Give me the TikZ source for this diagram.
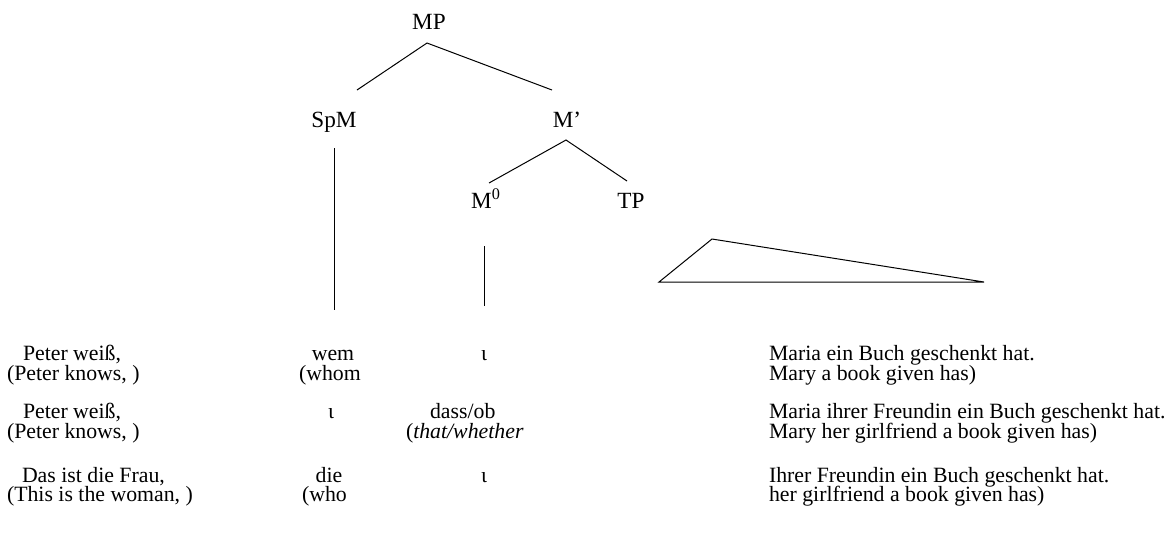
\documentclass[tikz,border=0pt]{standalone}
\usepackage{fontspec}
\setmainfont{Liberation Serif}
\begin{document}
\begin{tikzpicture}[x=0.5pt,y=-0.5pt,
  every node/.style={inner sep=0pt, outer sep=0pt, font=\fontsize{10.9}{10.3}\selectfont},
  cat/.style={anchor=base, font=\fontsize{11.6}{12}\selectfont},
  txt/.style={anchor=base west},
  ctr/.style={anchor=base},
  branch/.style={line width=0.5pt}]
\useasboundingbox (0,0) rectangle (1170,554);

% tree labels
\node[cat] (mp)   at (429,29)  {MP};
\node[cat] (spm)  at (334,127) {SpM};
\node[cat] (mbar) at (567,127) {M'};
\node[cat] (mzero) at (486,208) {M\textsuperscript{0}};
\node[cat] (tp)   at (631,208) {TP};

% branch end points
\coordinate (mpfoot)   at (427,43);
\coordinate (spmhead)  at (357,90);
\coordinate (mbarhead) at (552,90);
\coordinate (mbarfoot) at (566,140);
\coordinate (mzerohead) at (489,183);
\coordinate (tphead)   at (627,181);
\coordinate (spmfoot)  at (334,148);
\coordinate (spmend)   at (334,310);
\coordinate (mzerofoot) at (484,246);
\coordinate (mzeroend) at (484,306);
\coordinate (tptop)    at (712,239);
\coordinate (tpleft)   at (659,282);
\coordinate (tpright)  at (984,282);

\draw[branch] (spmhead) -- (mpfoot) -- (mbarhead);
\draw[branch] (mzerohead) -- (mbarfoot) -- (tphead);
\draw[branch] (spmfoot) -- (spmend);
\draw[branch] (mzerofoot) -- (mzeroend);
\draw[branch] (tptop) -- (tpleft) -- (tpright) -- cycle;

% first example
\node[txt] (a1) at (23,360) {Peter weiß,};
\node[txt] (a2) at (7,380)  {(Peter knows, )};
\node[ctr] (a3) at (333,360) {wem};
\node[txt] (a4) at (299,380) {(whom};
\node[ctr] (a5) at (484,360) {ι};
\node[txt] (a6) at (769,360) {Maria ein Buch geschenkt hat.};
\node[txt] (a7) at (769,380) {Mary a book given has)};

% second example
\node[txt] (b1) at (23,418) {Peter weiß,};
\node[txt] (b2) at (7,438)  {(Peter knows, )};
\node[ctr] (b3) at (331,418) {ι};
\node[txt] (b4) at (430,418) {dass/ob};
\node[txt] (b5) at (406,438) {(\textit{that/whether}};
\node[txt] (b6) at (769,418) {Maria ihrer Freundin ein Buch geschenkt hat.};
\node[txt] (b7) at (769,438) {Mary her girlfriend a book given has)};

% third example
\node[txt] (c1) at (22,482) {Das ist die Frau,};
\node[txt] (c2) at (7,501)  {(This is the woman, )};
\node[ctr] (c3) at (329,482) {die};
\node[txt] (c4) at (302,501) {(who};
\node[ctr] (c5) at (484,482) {ι};
\node[txt] (c6) at (769,482) {Ihrer Freundin ein Buch geschenkt hat.};
\node[txt] (c7) at (769,501) {her girlfriend a book given has)};
\end{tikzpicture}
\end{document}
